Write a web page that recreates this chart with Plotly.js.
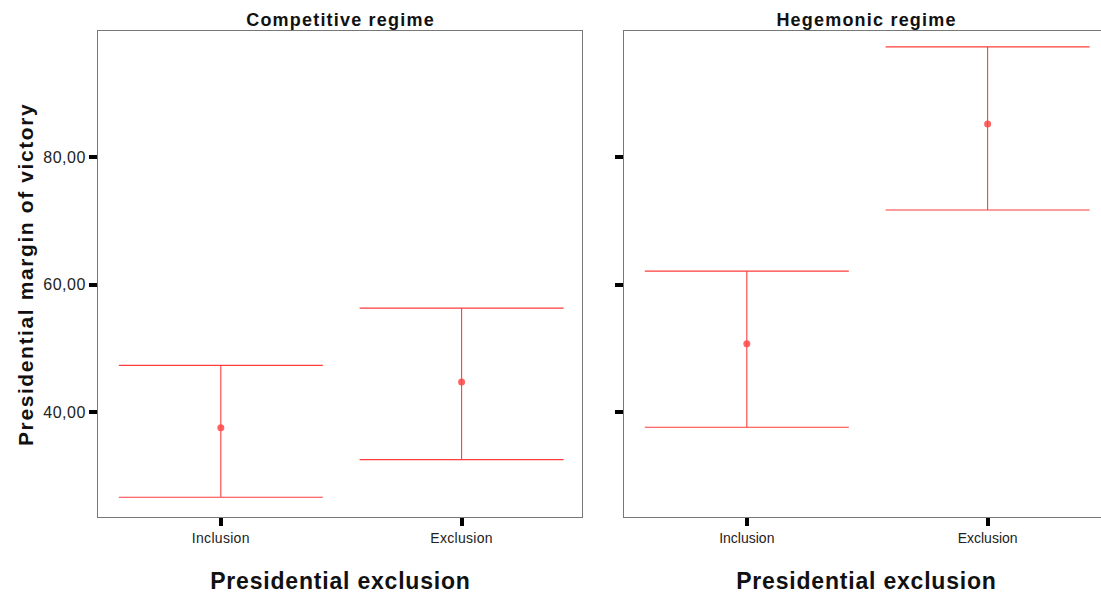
<!DOCTYPE html>
<html><head><meta charset="utf-8">
<script src="https://cdn.plot.ly/plotly-3.0.1.min.js"></script>
<style>
html,body{margin:0;padding:0;overflow:hidden;background:#fff}
#chart{width:1110px;height:597px}
#chart .xtick text{letter-spacing:0.3px}
#chart .ytick text{letter-spacing:0.5px}
</style>
</head><body><div id="chart"></div>
<script>
const categories = ["Inclusion", "Exclusion"];
const panelTitles = ["Competitive regime", "Hegemonic regime"];
const xTitle = "Presidential exclusion";
const yTitle = "Presidential margin of victory";
const competitiveMean = [37.5, 44.7];
const competitiveUpper = [47.3, 56.3];
const competitiveLower = [26.6, 32.5];
const hegemonicMean = [50.7, 85.2];
const hegemonicUpper = [62.1, 97.3];
const hegemonicLower = [37.6, 71.7];
const yTickVals = [40, 60, 80];

const FONT = 'Liberation Sans, Arial, sans-serif';
const errColor = '#ff3d3d';
function trace(mean, up, lo, xa, ya) {
  return {
    type: 'scatter', mode: 'markers', x: categories, y: mean, xaxis: xa, yaxis: ya,
    marker: {color: 'rgba(255,70,70,0.85)', size: 7},
    error_y: {type: 'data', symmetric: false,
      array: up.map((u, i) => u - mean[i]),
      arrayminus: lo.map((l, i) => mean[i] - l),
      width: 102, thickness: 1.1, color: errColor},
    hoverinfo: 'none', showlegend: false
  };
}
const data = [
  trace(competitiveMean, competitiveUpper, competitiveLower, 'x', 'y'),
  trace(hegemonicMean, hegemonicUpper, hegemonicLower, 'x2', 'y2')
];
const W = 1010;
const ax = {
  showline: true, mirror: true, linecolor: '#777', linewidth: 1,
  showgrid: false, zeroline: false, ticks: 'outside', ticklen: 8, tickwidth: 4, tickcolor: '#000'
};
const xBase = Object.assign({}, ax, {type: 'category', range: [-0.51, 1.5], fixedrange: true,
  tickfont: {family: FONT, size: 14, color: '#222'}});
const yBase = Object.assign({}, ax, {range: [23.5, 99.8], tickvals: yTickVals, tickformat: '.2f',
  tickfont: {family: FONT, size: 16, color: '#222'}});
const annotations = [];
panelTitles.forEach((t, i) => annotations.push({
  text: '<b>' + t + '</b>', xref: i === 0 ? 'x domain' : 'x2 domain', yref: 'paper',
  x: 0.5, y: 1, yanchor: 'middle', yshift: 11, showarrow: false,
  font: {family: FONT, size: 18, color: '#111'}
}));
[0, 1].forEach(i => annotations.push({
  text: '<b>' + xTitle + '</b>', xref: i === 0 ? 'x domain' : 'x2 domain', yref: 'paper',
  x: 0.5, y: 0, yanchor: 'middle', yshift: -64, showarrow: false,
  font: {family: FONT, size: 23, color: '#111'}
}));
annotations.push({
  text: '<b>' + yTitle + '</b>', xref: 'paper', yref: 'paper', x: 0, y: 0.5,
  xanchor: 'center', yanchor: 'middle', xshift: -73, textangle: -90, showarrow: false,
  font: {family: FONT, size: 21, color: '#111'}
});
const layout = {
  width: 1110, height: 597,
  margin: {l: 98, r: 2, t: 31, b: 80},
  paper_bgcolor: '#fff', plot_bgcolor: '#fff',
  separators: ',.',
  font: {family: FONT},
  xaxis: Object.assign({}, xBase, {domain: [0, 484 / W], anchor: 'y'}),
  xaxis2: Object.assign({}, xBase, {domain: [526 / W, 1], anchor: 'y2'}),
  yaxis: Object.assign({}, yBase, {domain: [0, 1], anchor: 'x'}),
  yaxis2: Object.assign({}, yBase, {domain: [0, 1], anchor: 'x2', showticklabels: false}),
  annotations: annotations
};
const spacing = ['1.2px', '1.2px', '0.8px', '0.8px', '1.6px'];
Plotly.newPlot('chart', data, layout, {staticPlot: true}).then(gd => {
  gd.querySelectorAll('g.annotation text.annotation-text').forEach((el, i) => {
    el.style.letterSpacing = spacing[i] || '0px';
  });
});
</script></body></html>
